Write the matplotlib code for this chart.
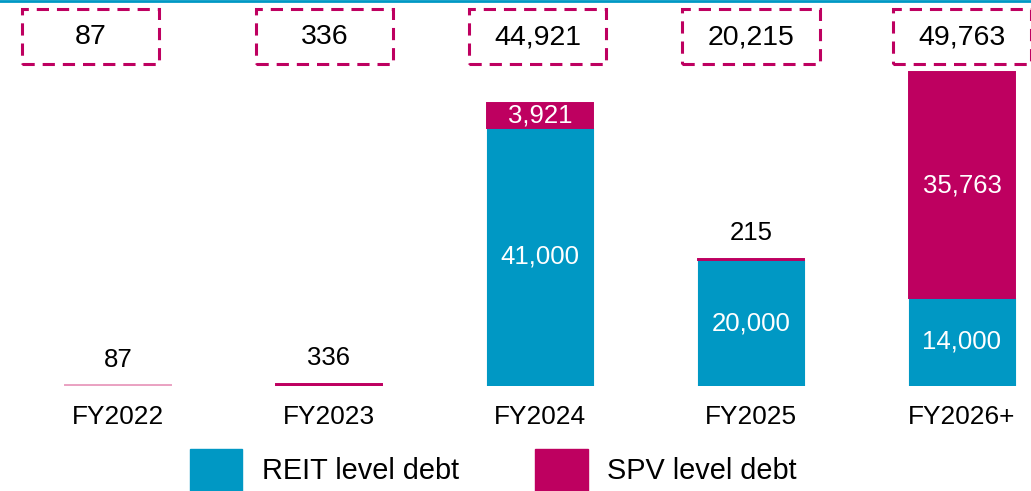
import matplotlib.pyplot as plt
from matplotlib.patches import Rectangle
from matplotlib.lines import Line2D
import numpy as np

plt.rcParams['font.family'] = ['Liberation Sans', 'DejaVu Sans']

years = ["FY2022", "FY2023", "FY2024", "FY2025", "FY2026+"]
reit_debt = [0, 0, 41000, 20000, 14000]
spv_debt = [87, 336, 3921, 215, 35763]
totals = [r + s for r, s in zip(reit_debt, spv_debt)]

blue = "#0098C4"
magenta = "#BE0060"
light_pink = "#EAA2C2"
spv_colors = [light_pink, magenta, magenta, magenta, magenta]

fig = plt.figure(figsize=(10.31, 4.91), dpi=100)
# axes spans from the top of the figure down to the bar baseline
ax = fig.add_axes([0, (491 - 386) / 491, 1, 386 / 491])
ax.set_xlim(-118 / 211, (1031 - 118) / 211)
ax.set_ylim(0, 386 / 0.0063)

x = np.arange(len(years))
w = 0.505
ax.bar(x, reit_debt, w, color=blue, edgecolor=blue, linewidth=0.8)
ax.bar(x, spv_debt, w, bottom=reit_debt, color=spv_colors,
       edgecolor=spv_colors, linewidth=1.4)

fs = 18.5
for i in range(len(years)):
    if reit_debt[i] > 5000:
        ax.text(x[i], reit_debt[i] / 2, f"{reit_debt[i]:,}", ha="center",
                va="center", color="white", fontsize=fs)
    if spv_debt[i] > 2000:
        ax.text(x[i], reit_debt[i] + spv_debt[i] / 2, f"{spv_debt[i]:,}",
                ha="center", va="center", color="white", fontsize=fs)
    else:
        ax.annotate(f"{spv_debt[i]:,}", (x[i], totals[i]),
                    xytext=(0, 18.5), textcoords="offset points",
                    ha="center", va="center", color="black", fontsize=fs)

# dashed total boxes along the top
box_shift = [-0.13, -0.02, -0.01, 0.0, 0.0]
box_w = 0.65
for i in range(len(years)):
    cx = x[i] + box_shift[i]
    rect = Rectangle((cx - box_w / 2, (386 - 64) / 386), box_w, 55 / 386,
                     transform=ax.get_xaxis_transform(), fill=False,
                     edgecolor=magenta, linewidth=2.2, linestyle=(0, (4, 2.6)),
                     clip_on=False)
    ax.add_patch(rect)
    ax.text(cx, (386 - 37) / 386, f"{totals[i]:,}", transform=ax.get_xaxis_transform(),
            ha="center", va="center", fontsize=20.5)

ax.set_xticks(x)
ax.set_xticklabels(years, fontsize=18.9)
ax.tick_params(axis="x", length=0, pad=14)
ax.set_yticks([])
for s in ax.spines.values():
    s.set_visible(False)

# blue rule at the very top
fig.add_artist(Line2D([0, 1], [0.998, 0.998], color=blue, linewidth=2.0,
                      transform=fig.transFigure))

# legend
H = 491
W = 1031
for x0, x1, tx, col, lab in [(190, 242, 262, blue, "REIT level debt"),
                             (535, 588, 607, magenta, "SPV level debt")]:
    fig.add_artist(Rectangle((x0 / W, (H - 501) / H), (x1 - x0) / W, 52 / H,
                             transform=fig.transFigure, color=col))
    fig.text(tx / W, (H - 471) / H, lab, ha="left", va="center", fontsize=20.8)

fig.savefig("out.png", dpi=100)
